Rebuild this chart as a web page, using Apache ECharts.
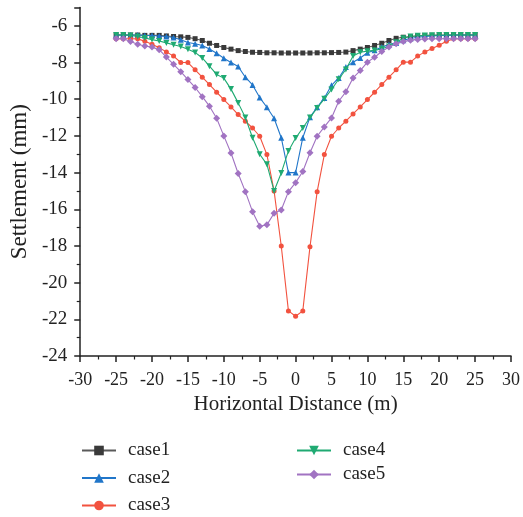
<!DOCTYPE html>
<html><head><meta charset="utf-8">
<script src="https://cdn.jsdelivr.net/npm/echarts@6/dist/echarts.min.js"></script>
<style>html,body{margin:0;padding:0;background:#fff}#c{width:523px;height:517px}</style>
</head><body><div id="c"></div>
<script>
const xs = [-25,-24,-23,-22,-21,-20,-19,-18,-17,-16,-15,-14,-13,-12,-11,-10,-9,-8,-7,-6,-5,-4,-3,-2,-1,0,1,2,3,4,5,6,7,8,9,10,11,12,13,14,15,16,17,18,19,20,21,22,23,24,25];
const case1 = [-6.5,-6.5,-6.5,-6.5,-6.52,-6.52,-6.52,-6.55,-6.58,-6.6,-6.63,-6.7,-6.8,-6.95,-7.07,-7.18,-7.27,-7.35,-7.4,-7.44,-7.45,-7.47,-7.47,-7.48,-7.48,-7.48,-7.48,-7.48,-7.47,-7.47,-7.46,-7.45,-7.43,-7.35,-7.27,-7.18,-7.07,-6.95,-6.8,-6.68,-6.62,-6.58,-6.55,-6.53,-6.52,-6.52,-6.52,-6.5,-6.5,-6.5,-6.5];
const case2 = [-6.5,-6.5,-6.5,-6.5,-6.52,-6.53,-6.55,-6.58,-6.64,-6.76,-6.91,-6.98,-7.07,-7.26,-7.49,-7.77,-8.0,-8.22,-8.8,-9.22,-9.91,-10.44,-11.04,-12.1,-14.0,-14.0,-12.1,-10.98,-10.44,-9.93,-9.24,-8.84,-8.25,-7.98,-7.75,-7.47,-7.33,-7.16,-7.02,-6.93,-6.78,-6.69,-6.62,-6.58,-6.55,-6.53,-6.52,-6.5,-6.5,-6.5,-6.5];
const case3 = [-6.7,-6.7,-6.7,-6.71,-6.84,-7.0,-7.2,-7.42,-7.65,-8.0,-8.0,-8.4,-8.8,-9.2,-9.62,-10.02,-10.42,-10.84,-11.2,-11.57,-12.02,-13.02,-15.0,-18.0,-21.54,-21.83,-21.54,-18.05,-15.04,-13.02,-12.02,-11.57,-11.2,-10.8,-10.42,-10.02,-9.62,-9.2,-8.8,-8.4,-7.98,-7.98,-7.65,-7.42,-7.24,-7.06,-6.84,-6.71,-6.7,-6.7,-6.7];
const case4 = [-6.5,-6.5,-6.52,-6.58,-6.66,-6.75,-6.83,-6.93,-7.03,-7.13,-7.28,-7.45,-7.75,-8.2,-8.65,-8.85,-9.45,-10.2,-11.0,-12.1,-13.0,-13.55,-15.0,-14.02,-12.82,-12.12,-11.57,-11.0,-10.48,-9.98,-9.47,-8.91,-8.38,-7.65,-7.44,-7.38,-7.34,-7.25,-7.12,-6.9,-6.68,-6.58,-6.54,-6.52,-6.51,-6.5,-6.5,-6.5,-6.5,-6.5,-6.5];
const case5 = [-6.7,-6.7,-6.85,-7.0,-7.1,-7.16,-7.3,-7.7,-8.1,-8.5,-8.93,-9.36,-9.86,-10.38,-11.04,-12.0,-12.93,-14.05,-15.04,-16.13,-16.93,-16.85,-16.22,-16.04,-15.04,-14.55,-13.94,-12.92,-12.02,-11.51,-11.02,-10.11,-9.6,-8.84,-8.44,-7.98,-7.71,-7.4,-7.15,-6.97,-6.85,-6.78,-6.74,-6.72,-6.7,-6.7,-6.7,-6.7,-6.7,-6.7,-6.7];
const seriesNames = ['case1','case2','case3','case4','case5'];
const xTitle = 'Horizontal Distance (m)';
const yTitle = 'Settlement (mm)';

const FONT = 'Liberation Serif';
const colors = ['#3a3a3a','#2176c9','#f2523f','#1faa72','#a173c2'];
const lineColors = ['#5a5a5a','#2176c9','#f2523f','#1faa72','#a173c2'];
const symbols = ['rect','triangle','circle','triangle','diamond'];
const rot = [0,0,0,180,0];
const sizes = [5,6,5,6,7];
const all = [case1,case2,case3,case4,case5];

const chart = echarts.init(document.getElementById('c'), null, {renderer:'canvas'});
const axisCommon = {
  axisLine:{show:true,onZero:false,lineStyle:{color:'#222',width:1.5}},
  axisTick:{show:true,inside:false,length:6,lineStyle:{color:'#222',width:1.5}},
  minorTick:{show:true,splitNumber:2,length:3.5,lineStyle:{color:'#222',width:1.2}},
  splitLine:{show:false},
  axisLabel:{color:'#222',fontFamily:FONT,fontSize:18},
  nameTextStyle:{color:'#222',fontFamily:FONT,fontSize:21}
};
const legendText = {fontFamily:FONT,fontSize:19,color:'#222',padding:[0,0,0,7]};
chart.setOption({
  animation:false,
  backgroundColor:'#fff',
  grid:{left:79.5,right:10.7,top:7.5,bottom:161,containLabel:false},
  xAxis:Object.assign({}, axisCommon, {
    type:'value',min:-30,max:30,interval:5,
    name:xTitle,nameLocation:'middle',nameGap:38,
    axisLabel:Object.assign({},axisCommon.axisLabel,{margin:15})
  }),
  yAxis:Object.assign({}, axisCommon, {
    type:'value',min:-24,max:-5,interval:2,
    name:yTitle,nameLocation:'middle',nameGap:46,
    nameTextStyle:{color:'#222',fontFamily:FONT,fontSize:23},
    axisLabel:Object.assign({},axisCommon.axisLabel,{margin:13,showMaxLabel:false,fontSize:19})
  }),
  legend:[
    {data:seriesNames.slice(0,3),orient:'vertical',left:76,top:436,height:110,itemWidth:34,itemHeight:12,itemGap:8.5,
     textStyle:legendText},
    {data:seriesNames.slice(3),orient:'vertical',left:291,top:436,height:110,itemWidth:34,itemHeight:12,itemGap:5,
     textStyle:legendText}
  ],
  series:seriesNames.map((n,i)=>({
    name:n,type:'line',
    data:xs.map((x,j)=>[x,all[i][j]]),
    symbol:symbols[i],symbolSize:sizes[i],symbolRotate:rot[i],
    showAllSymbol:true,
    lineStyle:{color:lineColors[i],width:1.1},
    itemStyle:{color:colors[i]},
    z:2+i
  }))
});
</script></body></html>
